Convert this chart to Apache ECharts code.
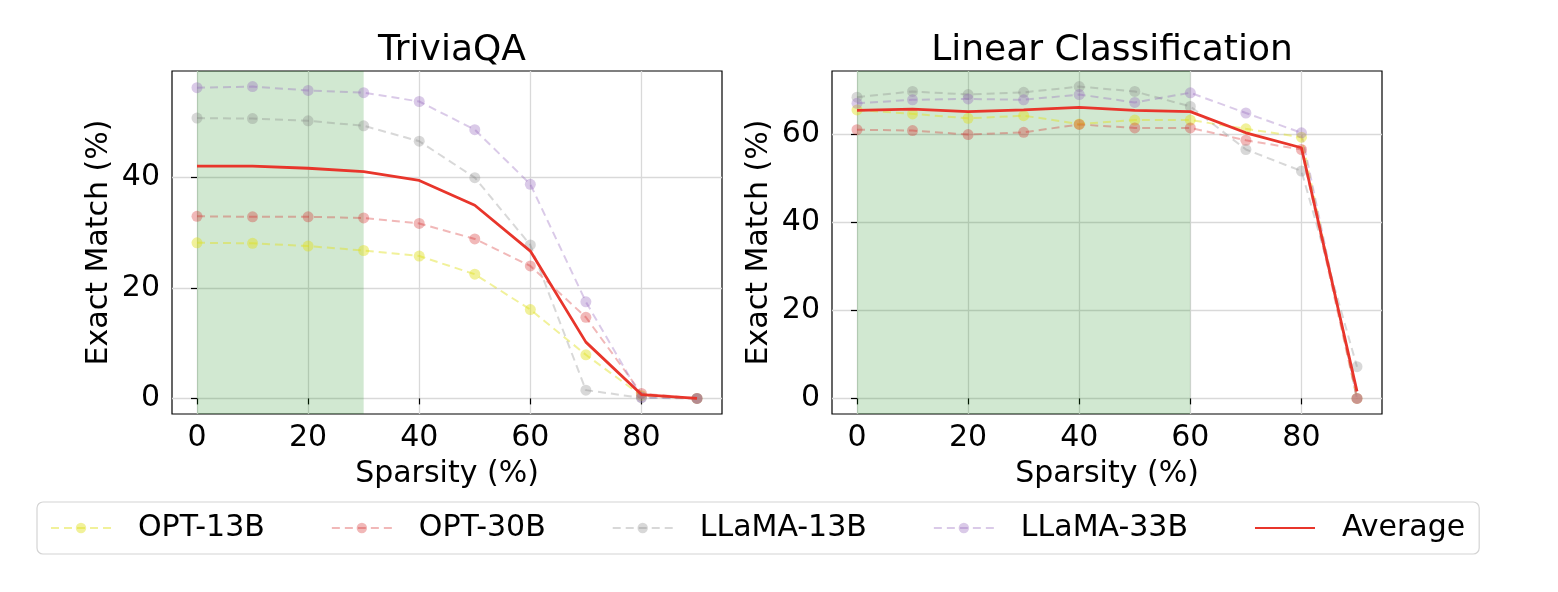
<!DOCTYPE html>
<html>
<head>
<meta charset="utf-8">
<script src="https://cdn.jsdelivr.net/npm/echarts@6/dist/echarts.min.js"></script>
<style>
  html, body { margin: 0; padding: 0; background: #fff; }
  #chart { width: 1558px; height: 592px; }
</style>
</head>
<body>
<div id="chart"></div>
<script>
// sparsity levels (%)
var sparsity = [0, 10, 20, 30, 40, 50, 60, 70, 80, 90]
var xTicks = [0, 20, 40, 60, 80]
var triviaTicks = [0, 20, 40]
var linearTicks = [0, 20, 40, 60]

// TriviaQA exact match (%)
var triviaOpt13 = [28.2, 28.1, 27.6, 26.8, 25.8, 22.5, 16.1, 7.9, 0.5, 0]
var triviaOpt30 = [33.0, 32.9, 32.9, 32.7, 31.7, 28.9, 24.0, 14.7, 0.9, 0]
var triviaLlama13 = [50.8, 50.7, 50.3, 49.4, 46.6, 40.0, 27.8, 1.5, 0.1, 0]
var triviaLlama33 = [56.3, 56.5, 55.8, 55.4, 53.8, 48.7, 38.8, 17.5, 0.2, 0]
var triviaAvg = [42.1, 42.1, 41.7, 41.1, 39.5, 35.0, 26.7, 10.2, 0.7, 0]

// Linear Classification exact match (%)
var linearOpt13 = [65.6, 64.7, 63.7, 64.3, 62.4, 63.3, 63.3, 61.3, 59.4, 0]
var linearOpt30 = [61.1, 60.9, 60.0, 60.5, 62.3, 61.5, 61.5, 58.7, 56.6, 0]
var linearLlama13 = [68.5, 69.8, 69.1, 69.6, 70.9, 69.8, 66.4, 56.6, 51.7, 7.2]
var linearLlama33 = [67.1, 67.9, 68.1, 67.9, 69.1, 67.3, 69.5, 64.9, 60.4, 0]
var linearAvg = [65.5, 65.8, 65.2, 65.6, 66.2, 65.5, 65.2, 60.4, 57.0, 1.6]

// shaded "safe" sparsity range per task
var triviaSpan = [0, 30]
var linearSpan = [0, 60]

var names = ['OPT-13B', 'OPT-30B', 'LLaMA-13B', 'LLaMA-33B', 'Average']
var colors = {
  'OPT-13B': 'rgba(225,225,30,0.45)',
  'OPT-30B': 'rgba(214,39,40,0.33)',
  'LLaMA-13B': 'rgba(127,127,127,0.3)',
  'LLaMA-33B': 'rgba(148,103,189,0.35)',
  'Average': '#e8352b'
}

var font = 'DejaVu Sans'

function pairs(ys) {
  var out = []
  for (var i = 0; i < sparsity.length; i++) {
    out.push([sparsity[i], ys[i]])
  }
  return out
}

function makeSeries(idx, sets, span) {
  var list = []
  for (var i = 0; i < names.length; i++) {
    var name = names[i]
    var avg = name == 'Average'
    var s = {
      name: name,
      type: 'line',
      xAxisIndex: idx,
      yAxisIndex: idx,
      data: pairs(sets[i]),
      symbol: avg ? 'none' : 'circle',
      symbolSize: 11,
      animation: false,
      z: avg ? 5 : 3,
      lineStyle: {
        color: colors[name],
        width: avg ? 2.8 : 2,
        type: avg ? 'solid' : [8, 5]
      },
      itemStyle: { color: colors[name], borderWidth: 0 },
      emphasis: { disabled: true }
    }
    if (i == 0) {
      s.markArea = {
        silent: true,
        z: 1,
        itemStyle: { color: 'rgba(0,128,0,0.18)' },
        data: [[{ xAxis: span[0] }, { xAxis: span[1] }]]
      }
    }
    list.push(s)
  }
  return list
}

function xAxisOpt(idx) {
  return {
    type: 'value',
    gridIndex: idx,
    min: -4.5,
    max: 94.5,
    name: 'Sparsity (%)',
    nameLocation: 'middle',
    nameGap: 45,
    nameTextStyle: { fontFamily: font, fontSize: 30, color: '#000' },
    axisLine: { show: false },
    axisTick: { show: true, length: 6, lineStyle: { color: '#000', width: 1.2 }, customValues: xTicks },
    axisLabel: { fontFamily: font, fontSize: 30, color: '#000', margin: 9, customValues: xTicks },
    splitLine: { show: true, lineStyle: { color: '#d9d9d9', width: 1.3 } }
  }
}

function yAxisOpt(idx, lo, hi, ticks) {
  return {
    type: 'value',
    gridIndex: idx,
    min: lo,
    max: hi,
    name: 'Exact Match (%)',
    nameLocation: 'middle',
    nameGap: 58,
    nameTextStyle: { fontFamily: font, fontSize: 30, color: '#000' },
    axisLine: { show: false },
    axisTick: { show: true, length: 6, lineStyle: { color: '#000', width: 1.2 }, customValues: ticks },
    axisLabel: { fontFamily: font, fontSize: 30, color: '#000', margin: 12, customValues: ticks },
    splitLine: { show: true, lineStyle: { color: '#d9d9d9', width: 1.3 } }
  }
}

var chart = echarts.init(document.getElementById('chart'), null, { renderer: 'canvas' })

var series = makeSeries(0, [triviaOpt13, triviaOpt30, triviaLlama13, triviaLlama33, triviaAvg], triviaSpan)
  .concat(makeSeries(1, [linearOpt13, linearOpt30, linearLlama13, linearLlama33, linearAvg], linearSpan))

var legendData = names.map(function (n) {
  if (n == 'Average') return { name: n, itemStyle: { opacity: 0 } }
  return { name: n }
})

chart.setOption({
  backgroundColor: '#fff',
  animation: false,
  title: [
    { text: 'TriviaQA', left: 447, top: 28, textAlign: 'center',
      textStyle: { fontFamily: font, fontSize: 36, fontWeight: 'normal', color: '#000' } },
    { text: 'Linear Classification', left: 1107, top: 28, textAlign: 'center',
      textStyle: { fontFamily: font, fontSize: 36, fontWeight: 'normal', color: '#000' } }
  ],
  grid: [
    { left: 172, right: 836, top: 71, bottom: 178, show: true, borderColor: '#000', borderWidth: 1.2, backgroundColor: 'transparent' },
    { left: 832, right: 176, top: 71, bottom: 178, show: true, borderColor: '#000', borderWidth: 1.2, backgroundColor: 'transparent' }
  ],
  xAxis: [xAxisOpt(0), xAxisOpt(1)],
  yAxis: [
    yAxisOpt(0, -2.825, 59.325, triviaTicks),
    yAxisOpt(1, -3.55, 74.45, linearTicks)
  ],
  legend: {
    data: legendData,
    left: 37,
    top: 502,
    padding: [11, 14, 11, 13],
    borderColor: '#d4d4d4',
    borderWidth: 1.2,
    borderRadius: 6,
    itemWidth: 60,
    itemHeight: 13,
    itemGap: 66,
    selectedMode: false,
    textStyle: { fontFamily: font, fontSize: 30, color: '#000', padding: [0, 0, 0, 22] }
  },
  series: series
})
</script>
</body>
</html>
